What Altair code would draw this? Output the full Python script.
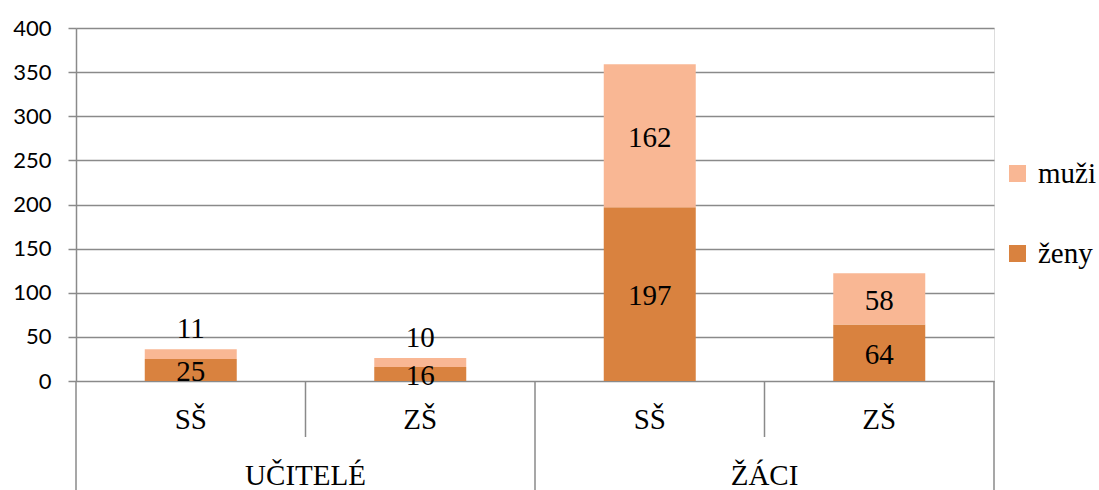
import altair as alt
import pandas as pd

# Category structure (group / school type) and the two stacked series
groups = ["UČITELÉ", "UČITELÉ", "ŽÁCI", "ŽÁCI"]
schools = ["SŠ", "ZŠ", "SŠ", "ZŠ"]
zeny = [25, 16, 197, 64]
muzi = [11, 10, 162, 58]
series = ["muži", "ženy"]
colors = ["#F9B794", "#D9823F"]
y_ticks = [0, 50, 100, 150, 200, 250, 300, 350, 400]

PLOT_W, PLOT_H = 918, 353
GRID = "#8A8A8A"
SERIF = "Liberation Serif"
SANS = "Lato"

# Long table: ženy stacked at the bottom, muži on top
rows = []
for i, (g, s, z, m) in enumerate(zip(groups, schools, zeny, muzi)):
    pos = i + 0.5
    rows.append(dict(pos=pos, grp=g, school=s, series="ženy", value=z,
                     start=0, end=z, mid=z / 2, small=False))
    rows.append(dict(pos=pos, grp=g, school=s, series="muži", value=m,
                     start=z, end=z + m, mid=z + m / 2, small=m < 20))
df = pd.DataFrame(rows)

cats = pd.DataFrame({"pos": [i + 0.5 for i in range(len(schools))],
                     "grp": groups, "school": schools})

# Separators of the two-level category axis
bounds = pd.DataFrame({"b": list(range(len(schools) + 1))})
bounds["major"] = [b == 0 or b == len(schools) or groups[b - 1] != groups[b]
                   for b in range(len(schools) + 1)]

xscale = alt.Scale(domain=[0, len(schools)], nice=False, zero=False, padding=0)
yscale = alt.Scale(domain=[0, 400], nice=False)
yaxis = alt.Axis(values=y_ticks, title=None, grid=True,
                 gridColor=GRID, gridWidth=1.5,
                 tickColor=GRID, tickWidth=1.5, tickSize=8,
                 domainColor=GRID, domainWidth=1.5,
                 labelFont=SANS, labelFontSize=22,
                 labelColor="#000000", labelPadding=17)


def xenc(field):
    return alt.X(field, scale=xscale, axis=None)


def yenc(field):
    return alt.Y(field, scale=yscale, axis=yaxis)


bars = alt.Chart(df).mark_bar(size=92).encode(
    x=xenc("pos:Q"),
    y=yenc("start:Q"),
    y2="end:Q",
    color=alt.Color("series:N",
                    scale=alt.Scale(domain=series, range=colors),
                    legend=alt.Legend(title=None, orient="none",
                                      legendX=927, legendY=131,
                                      symbolType="square", symbolSize=289,
                                      symbolStrokeWidth=0, symbolOpacity=1,
                                      labelFont=SERIF, labelFontSize=29,
                                      labelColor="#000000", labelOffset=6,
                                      rowPadding=50)),
)

labels_in = alt.Chart(df).transform_filter("!datum.small").mark_text(
    font=SERIF, fontSize=29, color="#000000", baseline="middle", dy=2
).encode(x=xenc("pos:Q"), y=yenc("mid:Q"), text="value:Q")

labels_above = alt.Chart(df).transform_filter("datum.small").mark_text(
    font=SERIF, fontSize=29, color="#000000", baseline="middle", dy=-20
).encode(x=xenc("pos:Q"), y=yenc("end:Q"), text="value:Q")

seps_major = alt.Chart(bounds).transform_filter("datum.major").mark_rule(
    color=GRID, strokeWidth=1.5
).encode(x=xenc("b:Q"), y=alt.value(PLOT_H), y2=alt.value(PLOT_H + 110))

seps_minor = alt.Chart(bounds).transform_filter("!datum.major").mark_rule(
    color=GRID, strokeWidth=1.5
).encode(x=xenc("b:Q"), y=alt.value(PLOT_H), y2=alt.value(PLOT_H + 56))

school_text = alt.Chart(cats).mark_text(
    font=SERIF, fontSize=29, color="#000000", baseline="alphabetic"
).encode(x=xenc("pos:Q"), y=alt.value(PLOT_H + 48), text="school:N")

group_text = alt.Chart(cats).mark_text(
    font=SERIF, fontSize=29, color="#000000", baseline="alphabetic"
).encode(x=xenc("mean(pos):Q"), y=alt.value(PLOT_H + 104), text="grp:N")

chart = alt.layer(bars, labels_in, labels_above, seps_major, seps_minor,
                  school_text, group_text).properties(
    width=PLOT_W, height=PLOT_H,
    padding={"left": 76, "top": 28, "right": 105, "bottom": 109},
    autosize="none",
).configure_view(stroke="transparent", strokeWidth=0).configure(
    background="#FFFFFF")

chart.save("out.html", embed_options={"renderer": "svg", "actions": False})
